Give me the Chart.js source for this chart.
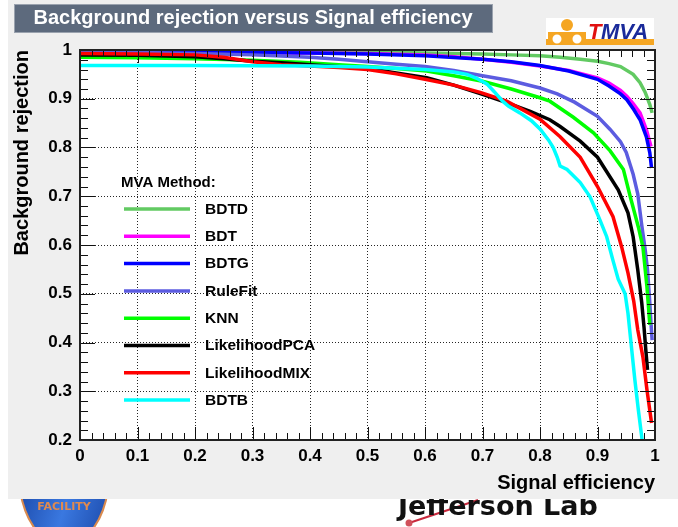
<!DOCTYPE html>
<html>
<head>
<meta charset="utf-8">
<style>
  html, body { margin: 0; padding: 0; background: #ffffff; }
  canvas { display: block; }
</style>
<script src="https://cdn.jsdelivr.net/npm/chart.js@4.4.1/dist/chart.umd.min.js"></script>
</head>
<body>
<canvas id="roc" width="678" height="527"></canvas>
<script>
// ROC curves: background rejection as a function of signal efficiency
const methodNames = ['BDTD', 'BDT', 'BDTG', 'RuleFit', 'KNN', 'LikelihoodPCA', 'LikelihoodMIX', 'BDTB'];
const methodColors = ['#62ca62', '#ff00ff', '#0000ff', '#5c5ce0', '#00ff00', '#000000', '#ff0000', '#00ffff'];

const effBDTD = [0, 0.1, 0.2, 0.3, 0.4, 0.5, 0.6, 0.7, 0.75, 0.8, 0.835, 0.87, 0.9, 0.92, 0.94, 0.962, 0.974, 0.983, 0.991, 0.995];
const rejBDTD = [0.999, 0.999, 0.998, 0.998, 0.997, 0.996, 0.994, 0.992, 0.99, 0.988, 0.985, 0.981, 0.977, 0.972, 0.966, 0.95, 0.933, 0.913, 0.888, 0.871];

const effBDT = [0, 0.2, 0.4, 0.5, 0.6, 0.65, 0.7, 0.75, 0.8, 0.85, 0.9, 0.92, 0.94, 0.951, 0.962, 0.974, 0.985, 0.993];
const rejBDT = [0.996, 0.995, 0.994, 0.993, 0.99, 0.986, 0.981, 0.975, 0.967, 0.958, 0.943, 0.932, 0.917, 0.905, 0.89, 0.871, 0.837, 0.802];

const effBDTG = [0, 0.2, 0.4, 0.5, 0.6, 0.7, 0.75, 0.8, 0.85, 0.9, 0.92, 0.94, 0.951, 0.963, 0.974, 0.985, 0.991, 0.994];
const rejBDTG = [0.997, 0.996, 0.994, 0.992, 0.988, 0.981, 0.976, 0.968, 0.957, 0.94, 0.926, 0.91, 0.898, 0.878, 0.857, 0.822, 0.789, 0.758];

const effRuleFit = [0, 0.1, 0.2, 0.3, 0.4, 0.45, 0.5, 0.55, 0.6, 0.65, 0.7, 0.75, 0.8, 0.83, 0.86, 0.9, 0.922, 0.94, 0.95, 0.962, 0.97, 0.977, 0.983, 0.987, 0.991, 0.993, 0.995];
const rejRuleFit = [0.996, 0.995, 0.993, 0.99, 0.985, 0.981, 0.976, 0.971, 0.966, 0.958, 0.947, 0.937, 0.922, 0.91, 0.893, 0.864, 0.837, 0.812, 0.79, 0.745, 0.705, 0.64, 0.59, 0.549, 0.481, 0.44, 0.405];

const effKNN = [0, 0.1, 0.2, 0.3, 0.383, 0.45, 0.5, 0.55, 0.603, 0.65, 0.7, 0.75, 0.8, 0.817, 0.858, 0.893, 0.922, 0.945, 0.957, 0.971, 0.979, 0.986, 0.991];
const rejKNN = [0.985, 0.984, 0.982, 0.979, 0.975, 0.97, 0.966, 0.962, 0.957, 0.947, 0.936, 0.92, 0.902, 0.895, 0.862, 0.83, 0.793, 0.755, 0.699, 0.637, 0.596, 0.514, 0.436];

const effLikelihoodPCA = [0, 0.1, 0.2, 0.25, 0.3, 0.35, 0.4, 0.458, 0.5, 0.55, 0.603, 0.65, 0.7, 0.742, 0.783, 0.817, 0.835, 0.87, 0.9, 0.936, 0.953, 0.962, 0.97, 0.977, 0.981, 0.984, 0.987];
const rejLikelihoodPCA = [0.99, 0.989, 0.986, 0.982, 0.977, 0.974, 0.97, 0.965, 0.962, 0.953, 0.943, 0.928, 0.909, 0.892, 0.874, 0.857, 0.843, 0.813, 0.78, 0.713, 0.666, 0.617, 0.549, 0.481, 0.43, 0.385, 0.344];

const effLikelihoodMIX = [0, 0.1, 0.2, 0.25, 0.3, 0.35, 0.4, 0.45, 0.5, 0.55, 0.6, 0.65, 0.696, 0.742, 0.8, 0.835, 0.87, 0.9, 0.927, 0.942, 0.953, 0.963, 0.97, 0.979, 0.986, 0.994];
const rejLikelihoodMIX = [0.993, 0.992, 0.99, 0.985, 0.976, 0.97, 0.967, 0.964, 0.96, 0.951, 0.94, 0.928, 0.913, 0.895, 0.858, 0.822, 0.78, 0.72, 0.658, 0.596, 0.543, 0.485, 0.426, 0.37, 0.303, 0.235];

const effBDTB = [0, 0.2, 0.4, 0.5, 0.6, 0.65, 0.673, 0.69, 0.708, 0.72, 0.735, 0.745, 0.765, 0.785, 0.8, 0.815, 0.823, 0.83, 0.835, 0.847, 0.87, 0.887, 0.904, 0.916, 0.927, 0.936, 0.948, 0.953, 0.959, 0.965, 0.971, 0.977, 0.98];
const rejBDTB = [0.968, 0.968, 0.967, 0.965, 0.96, 0.955, 0.95, 0.942, 0.93, 0.915, 0.895, 0.885, 0.871, 0.855, 0.838, 0.815, 0.8, 0.78, 0.762, 0.755, 0.728, 0.699, 0.652, 0.617, 0.568, 0.53, 0.5, 0.46, 0.391, 0.323, 0.262, 0.206, 0.17];

const xTickLabels = ['0', '0.1', '0.2', '0.3', '0.4', '0.5', '0.6', '0.7', '0.8', '0.9', '1'];
const yTickLabels = ['0.2', '0.3', '0.4', '0.5', '0.6', '0.7', '0.8', '0.9', '1'];

const effBySeries = [effBDTD, effBDT, effBDTG, effRuleFit, effKNN, effLikelihoodPCA, effLikelihoodMIX, effBDTB];
const rejBySeries = [rejBDTD, rejBDT, rejBDTG, rejRuleFit, rejKNN, rejLikelihoodPCA, rejLikelihoodMIX, rejBDTB];

const FONT = '"Liberation Sans", Arial, Helvetica, sans-serif';

const datasets = methodNames.map((name, i) => ({
  label: name,
  data: effBySeries[i].map((e, k) => ({ x: e, y: rejBySeries[i][k] })),
  borderColor: methodColors[i],
  backgroundColor: methodColors[i],
  borderWidth: 3.5,
  pointRadius: 0,
  tension: 0,
  fill: false,
  order: methodNames.length - i
}));

// Page furniture: grey pad, logos, title box and white plotting frame
const backdrop = {
  id: 'backdrop',
  beforeDraw(chart) {
    const ctx = chart.ctx;
    const W = chart.width, H = chart.height;
    ctx.save();
    ctx.fillStyle = '#ffffff';
    ctx.fillRect(0, 0, W, H);

    // lower logos, partly hidden under the pad
    const g = ctx.createLinearGradient(20, 500, 105, 527);
    g.addColorStop(0, '#1f4fb0');
    g.addColorStop(0.5, '#3a78e0');
    g.addColorStop(1, '#1f4fb0');
    ctx.beginPath();
    ctx.moveTo(20, 490);
    ctx.lineTo(108, 490);
    ctx.quadraticCurveTo(104, 515, 92, 530);
    ctx.lineTo(36, 530);
    ctx.quadraticCurveTo(24, 515, 20, 490);
    ctx.closePath();
    ctx.fillStyle = g;
    ctx.fill();
    ctx.strokeStyle = '#d98a4e';
    ctx.lineWidth = 2;
    ctx.stroke();
    ctx.fillStyle = '#e08a50';
    ctx.font = 'bold 11px "DejaVu Sans", sans-serif';
    ctx.textAlign = 'center';
    ctx.textBaseline = 'middle';
    ctx.fillText('FACILITY', 64, 507);

    ctx.strokeStyle = '#c8283c';
    ctx.lineWidth = 2;
    ctx.beginPath();
    ctx.moveTo(409, 523);
    ctx.lineTo(478, 500);
    ctx.stroke();
    ctx.fillStyle = '#d0505a';
    ctx.beginPath();
    ctx.arc(409, 523, 3.5, 0, Math.PI * 2);
    ctx.fill();
    ctx.fillStyle = '#111111';
    ctx.font = 'bold 27px "DejaVu Sans", sans-serif';
    ctx.textAlign = 'left';
    ctx.textBaseline = 'alphabetic';
    ctx.fillText('Jefferson Lab', 398, 515, 206);

    // grey pad
    ctx.fillStyle = '#efefef';
    ctx.fillRect(8, 0, W - 8, 499);

    // title box
    ctx.fillStyle = '#5d6a7d';
    ctx.fillRect(14, 4, 479, 29);
    ctx.strokeStyle = '#9aa2ae';
    ctx.lineWidth = 1;
    ctx.strokeRect(14.5, 4.5, 478, 28);
    ctx.fillStyle = '#ffffff';
    ctx.font = 'bold 20px ' + FONT;
    ctx.textAlign = 'center';
    ctx.textBaseline = 'middle';
    ctx.fillText('Background rejection versus Signal efficiency', 253, 18.5);

    // TMVA badge
    ctx.fillStyle = '#ffffff';
    ctx.fillRect(546, 18, 108, 27);
    ctx.fillStyle = '#f5a623';
    ctx.fillRect(546, 39, 108, 6);
    ctx.fillRect(548, 32, 38, 13);
    ctx.beginPath();
    ctx.arc(567, 25, 6, 0, Math.PI * 2);
    ctx.fill();
    ctx.fillStyle = '#ffffff';
    ctx.beginPath();
    ctx.arc(557, 39, 4.5, 0, Math.PI * 2);
    ctx.arc(577, 39, 4.5, 0, Math.PI * 2);
    ctx.fill();
    ctx.font = 'italic bold 22px ' + FONT;
    ctx.textAlign = 'left';
    ctx.textBaseline = 'alphabetic';
    ctx.fillStyle = '#e01010';
    ctx.fillText('T', 588, 39);
    ctx.fillStyle = '#1a2a9a';
    ctx.fillText('MVA', 601, 39);

    // plotting frame
    const a = chart.chartArea;
    ctx.fillStyle = '#ffffff';
    ctx.fillRect(a.left, a.top, a.right - a.left, a.bottom - a.top);
    ctx.restore();
  }
};

// Axis frame with inward ticks on all four sides, plus the method legend
const frameAndLegend = {
  id: 'frameAndLegend',
  afterDatasetsDraw(chart) {
    const ctx = chart.ctx;
    const a = chart.chartArea;
    const xs = chart.scales.x, ys = chart.scales.y;
    ctx.save();
    ctx.strokeStyle = '#111111';
    ctx.lineWidth = 1;
    ctx.beginPath();
    for (let k = 0; k <= 50; k++) {
      const v = xs.min + (xs.max - xs.min) * k / 50;
      const px = Math.round(xs.getPixelForValue(v)) + 0.5;
      const len = (k % 5 === 0) ? 13 : 7;
      ctx.moveTo(px, a.bottom); ctx.lineTo(px, a.bottom - len);
      ctx.moveTo(px, a.top); ctx.lineTo(px, a.top + len);
    }
    for (let k = 0; k <= 40; k++) {
      const v = ys.min + (ys.max - ys.min) * k / 40;
      const py = Math.round(ys.getPixelForValue(v)) + 0.5;
      const len = (k % 5 === 0) ? 15 : 8;
      ctx.moveTo(a.left, py); ctx.lineTo(a.left + len, py);
      ctx.moveTo(a.right, py); ctx.lineTo(a.right - len, py);
    }
    ctx.stroke();
    ctx.lineWidth = 2;
    ctx.strokeStyle = '#222222';
    ctx.strokeRect(a.left, a.top, a.right - a.left, a.bottom - a.top);

    // legend
    ctx.fillStyle = '#000000';
    ctx.font = 'bold 15px ' + FONT;
    ctx.textAlign = 'left';
    ctx.textBaseline = 'middle';
    ctx.fillText('MVA Method:', 121, 183);
    ctx.font = 'bold 15.5px ' + FONT;
    methodNames.forEach((name, i) => {
      const y = 209 + i * 27.3;
      ctx.strokeStyle = methodColors[i];
      ctx.lineWidth = 3.5;
      ctx.beginPath();
      ctx.moveTo(124, y);
      ctx.lineTo(190, y);
      ctx.stroke();
      ctx.fillStyle = '#000000';
      ctx.fillText(name, 205, y + 0.5);
    });
    ctx.restore();
  }
};

const tickFont = { family: FONT, size: 17, weight: 'bold' };
const titleFont = { family: FONT, size: 20, weight: 'bold' };

new Chart(document.getElementById('roc'), {
  type: 'line',
  data: { datasets },
  options: {
    responsive: false,
    animation: false,
    devicePixelRatio: 1,
    layout: { padding: { left: 8, top: 50, right: 23, bottom: 0 } },
    plugins: { legend: { display: false }, tooltip: { enabled: false } },
    scales: {
      x: {
        type: 'linear',
        min: 0, max: 1,
        ticks: {
          stepSize: 0.1, autoSkip: false, maxRotation: 0, padding: 6,
          color: '#000000', font: tickFont,
          callback: (v) => xTickLabels[Math.round(v * 10)]
        },
        grid: { drawTicks: false, color: 'rgba(0,0,0,0.85)', lineWidth: 1 },
        border: { display: false, dash: [1, 2] },
        title: {
          display: true, text: 'Signal efficiency', align: 'end',
          color: '#000000', font: titleFont, padding: { top: 0, bottom: 32 }
        },
        afterFit(scale) { scale.height = 87; }
      },
      y: {
        type: 'linear',
        min: 0.2, max: 1,
        ticks: {
          stepSize: 0.1, autoSkip: false, padding: 8,
          color: '#000000', font: tickFont,
          callback: (v) => yTickLabels[Math.round((v - 0.2) * 10)]
        },
        grid: { drawTicks: false, color: 'rgba(0,0,0,0.85)', lineWidth: 1 },
        border: { display: false, dash: [1, 2] },
        title: {
          display: true, text: 'Background rejection', align: 'end',
          color: '#000000', font: titleFont, padding: { top: 2, bottom: 0 }
        },
        afterFit(scale) { scale.width = 72; }
      }
    }
  },
  plugins: [backdrop, frameAndLegend]
});
</script>
</body>
</html>
